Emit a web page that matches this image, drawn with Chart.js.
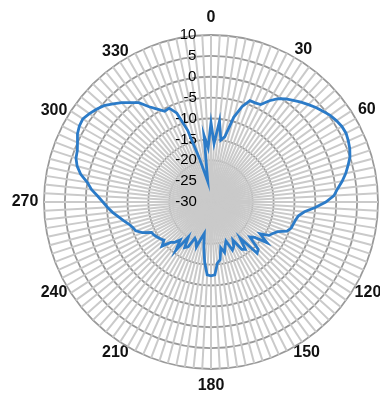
<!DOCTYPE html>
<html>
<head>
<meta charset="utf-8">
<script src="https://cdn.jsdelivr.net/npm/chart.js@4"></script>
<style>
  html, body { margin: 0; padding: 0; background: #fff; overflow: hidden; }
  canvas { display: block; }
</style>
</head>
<body>
<canvas id="c" width="410" height="399"></canvas>
<script>
// angle in degrees, 3 deg steps
const angles = Array.from({length: 120}, (_, i) => String(i * 3))
// gain in dB
const gain = [
  -11, -16, -10.5, -15, -14, -9, -6, -4, -4, -3.8,
  -2, -0.5, 0.5, 1.3, 2.2, 3.0, 3.8, 4.5, 5.3, 5.8,
  6.2, 6.3, 6.0, 5.6, 5.0, 4.0, 3.0, 1.8, 0.5, -0.5,
  -2.5, -5, -7.5, -8.8, -9.3, -9.6, -9.8, -10.5, -12.5, -13.4,
  -14, -16, -13.4, -16.5, -17.5, -14, -13.5, -19, -16, -16.5,
  -19.5, -18, -17.4, -20, -19, -17.5, -18.8, -16, -15.3, -12.5,
  -12.3, -12.5, -15.5, -19, -22.3, -21, -18.7, -20, -20.5, -18,
  -17.4, -20, -15.6, -18.3, -17, -16.3, -14.2, -15.5, -15, -14.6,
  -14.2, -14, -12, -10.7, -10.3, -9.6, -8.6, -7.5, -6.3, -5.2,
  -4.1, -2.8, -1.2, 0.0, 1.9, 3.2, 4.0, 4.3, 5.0, 5.9,
  6.4, 6.6, 6.0, 5.3, 4.5, 3.2, 2.0, 0.6, -0.6, -2.8,
  -4.3, -5.6, -5.4, -7.2, -12, -19, -23, -25, -14, -17
]
const rMin = -30, rMax = 10, rStep = 5
const labelEvery = 30

const family = '"Liberation Sans", Arial, sans-serif'
const mctx = document.createElement('canvas').getContext('2d')

// tick labels sit left of the vertical axis, so pad them with trailing spaces
const padTick = s => {
  mctx.font = '15px ' + family
  const vis = mctx.measureText(s).width
  const sp = mctx.measureText(' ').width
  return s + ' '.repeat(Math.max(0, Math.round((30 + vis) / sp)))
}

// angle labels: put their centres at a given distance past the outer ring
const labelFont = { family, size: 16, weight: 'bold', lineHeight: 1 }
const labelPad = ctx => {
  const a = ctx.index * 3 * Math.PI / 180
  const txt = ctx.label || ''
  mctx.font = 'bold 16px ' + family
  const w = txt ? mctx.measureText(txt).width : 0
  const s2 = Math.abs(Math.sin(2 * a)), c2 = Math.cos(2 * a)
  const want = 18 - c2 - 6 * s2 - 2.5 * s2 * c2
  return want - 7.5 - (w / 2) * Math.abs(Math.sin(a)) - 8 * Math.abs(Math.cos(a))
}

new Chart(document.getElementById('c'), {
  type: 'radar',
  data: {
    labels: angles,
    datasets: [{
      data: gain,
      borderColor: '#2b7bc8',
      borderWidth: 2.8,
      pointRadius: 0,
      fill: false,
      tension: 0
    }]
  },
  options: {
    responsive: false,
    animation: false,
    layout: { padding: { left: 9, top: 10, bottom: 5 } },
    plugins: { legend: { display: false }, tooltip: { enabled: false } },
    scales: {
      r: {
        min: rMin,
        max: rMax,
        ticks: {
          stepSize: rStep,
          color: '#000',
          font: { family, size: 15 },
          showLabelBackdrop: false,
          backdropPadding: 0,
          callback: v => padTick(String(v))
        },
        grid: { circular: true, color: '#999', lineWidth: 1.8 },
        angleLines: { color: '#cacaca', lineWidth: 2 },
        pointLabels: {
          color: '#111',
          font: labelFont,
          padding: labelPad,
          callback: l => (+l % labelEvery === 0 ? l : '')
        }
      }
    }
  }
})
</script>
</body>
</html>
